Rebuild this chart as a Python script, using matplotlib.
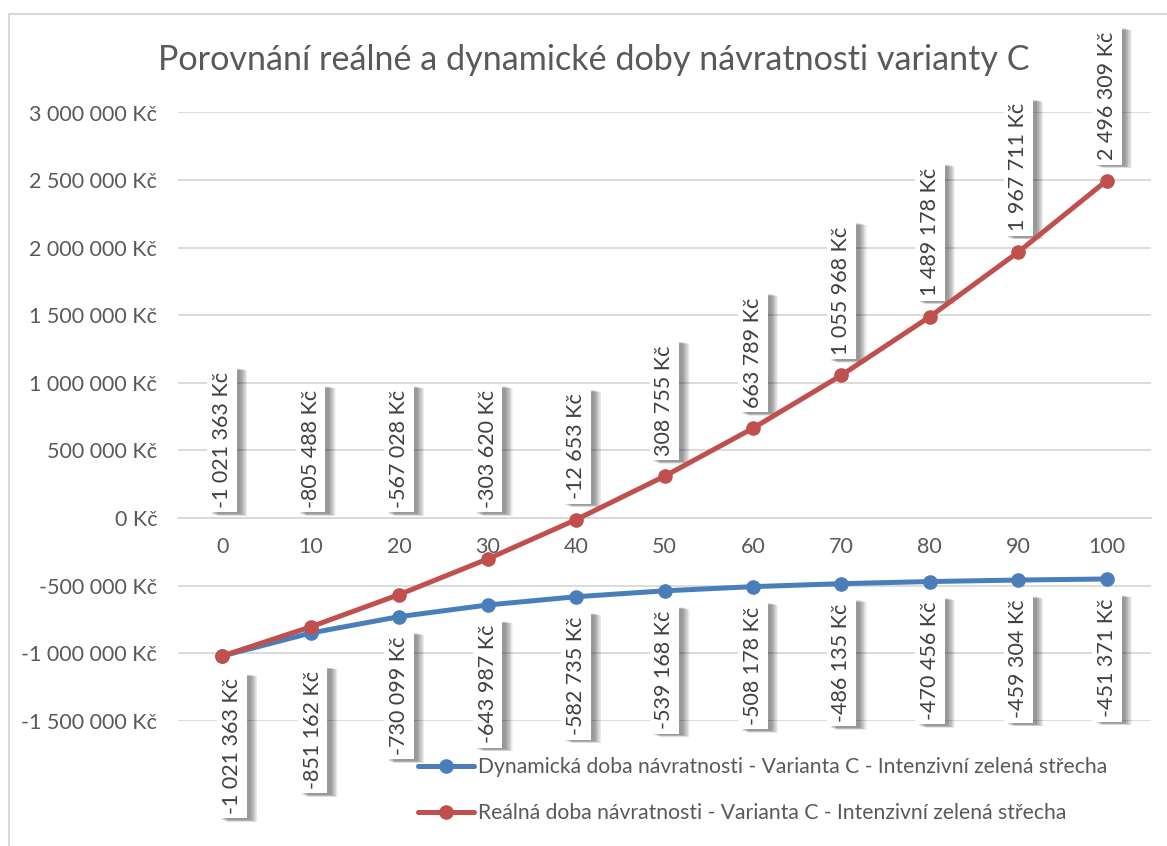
import matplotlib
matplotlib.use("Agg")
import matplotlib.pyplot as plt
import matplotlib.patheffects as pe
from matplotlib.patches import Rectangle
from matplotlib.ticker import FuncFormatter

# --- data -----------------------------------------------------------------
years = [0, 10, 20, 30, 40, 50, 60, 70, 80, 90, 100]
dynamic = [-1021363, -851162, -730099, -643987, -582735, -539168,
           -508178, -486135, -470456, -459304, -451371]
real = [-1021363, -805488, -567028, -303620, -12653, 308755,
        663789, 1055968, 1489178, 1967711, 2496309]
dynamic_name = "Dynamická doba návratnosti - Varianta C - Intenzivní zelená střecha"
real_name = "Reálná doba návratnosti - Varianta C - Intenzivní zelená střecha"
title = "Porovnání reálné a dynamické doby návratnosti varianty C"
y_ticks = [-1500000, -1000000, -500000, 0, 500000, 1000000,
           1500000, 2000000, 2500000, 3000000]

# --- style ----------------------------------------------------------------
BLUE = "#4a7ebb"
RED = "#c0504d"
GRID = "#d9d9d9"
TXT = "#595959"
LBL = "#404040"
FS = 15.5
plt.rcParams["font.family"] = ["Lato", "DejaVu Sans"]

W, H = 1167, 846
fig = plt.figure(figsize=(W / 100, H / 100), dpi=100)
fig.patch.set_facecolor("white")

# thin outer chart frame
fig.patches.append(Rectangle((8.5 / W, -0.2), 2.0, 1.2 - 13.5 / H,
                             transform=fig.transFigure, fill=False,
                             ec=GRID, lw=1.5))

fig.text(594 / W, 1 - 60 / H, title, ha="center", va="center",
         fontsize=24.6, color=TXT)

ax = fig.add_axes([178 / W, 1 - 720.7 / H, 973 / W, 608.2 / H])
ax.set_facecolor("none")
ax.set_xlim(-5, 105)
ax.set_ylim(-1500000, 3000000)


def czk(v, _=None):
    return f"{v:,.0f}".replace(",", " ") + " Kč"


ax.set_yticks(y_ticks)
ax.yaxis.set_major_formatter(FuncFormatter(czk))
ax.set_xticks(years)
ax.set_xticklabels([str(y) for y in years])
ax.tick_params(axis="y", length=0, pad=15, labelsize=FS, labelcolor=TXT)
ax.tick_params(axis="x", length=0, pad=14, labelsize=FS, labelcolor=TXT)
for s in ("top", "right", "left"):
    ax.spines[s].set_visible(False)
ax.spines["bottom"].set_position(("data", 0))
ax.spines["bottom"].set_color(GRID)
ax.spines["bottom"].set_linewidth(1.3)
ax.grid(axis="y", color=GRID, lw=1.3)
ax.set_axisbelow(True)

ax.plot(years, dynamic, color=BLUE, lw=3.6, marker="o", ms=9.5,
        solid_capstyle="round", zorder=4, label=dynamic_name)
ax.plot(years, real, color=RED, lw=3.6, marker="o", ms=9.5,
        solid_capstyle="round", zorder=5, label=real_name)

# --- value labels in white boxes with a soft drop shadow --------------------
BOX_PAD = 0.22
pad_px = BOX_PAD * FS * 100 / 72
shadow = []
for k in range(11):
    dx = 2.5 + 0.5 * k
    shadow.append(pe.SimplePatchShadow(offset=(dx, -1.0 - 0.15 * k),
                                       shadow_rgbFace="black", alpha=0.045))
shadow.append(pe.Normal())

inv = ax.transData.inverted()
zero_py = ax.transData.transform((0, 0))[1]

# extra spacing for a few labels (pixels: right shift, downward shift)
blue_shift = {0: (10, 2), 10: (2, 18)}


def boxed(x_px, y_px, text, va):
    xd, yd = inv.transform((x_px, y_px))
    t = ax.text(xd, yd, text, rotation=90, ha="center", va=va,
                fontsize=FS, color=LBL, zorder=2,
                bbox=dict(boxstyle=f"square,pad={BOX_PAD}", fc="white",
                          ec="none"))
    t.get_bbox_patch().set_path_effects(shadow)


for x, v in zip(years, real):
    px, py = ax.transData.transform((x, v))
    bottom = max(py + 16, zero_py + 5.5)
    boxed(px, bottom + pad_px, czk(v), "bottom")

for x, v in zip(years, dynamic):
    px, py = ax.transData.transform((x, v))
    dx, dy = blue_shift.get(x, (0, 0))
    top = py - 15 - dy
    boxed(px + dx, top - pad_px, czk(v), "top")

fig.legend(loc="upper left", bbox_to_anchor=(418 / W, 1 - 757 / H),
           frameon=False, fontsize=15.2, labelcolor=TXT, handlelength=2.65,
           handletextpad=0.2, labelspacing=1.25, borderpad=0,
           borderaxespad=0)

fig.savefig("out.png", dpi=100, facecolor="white")
